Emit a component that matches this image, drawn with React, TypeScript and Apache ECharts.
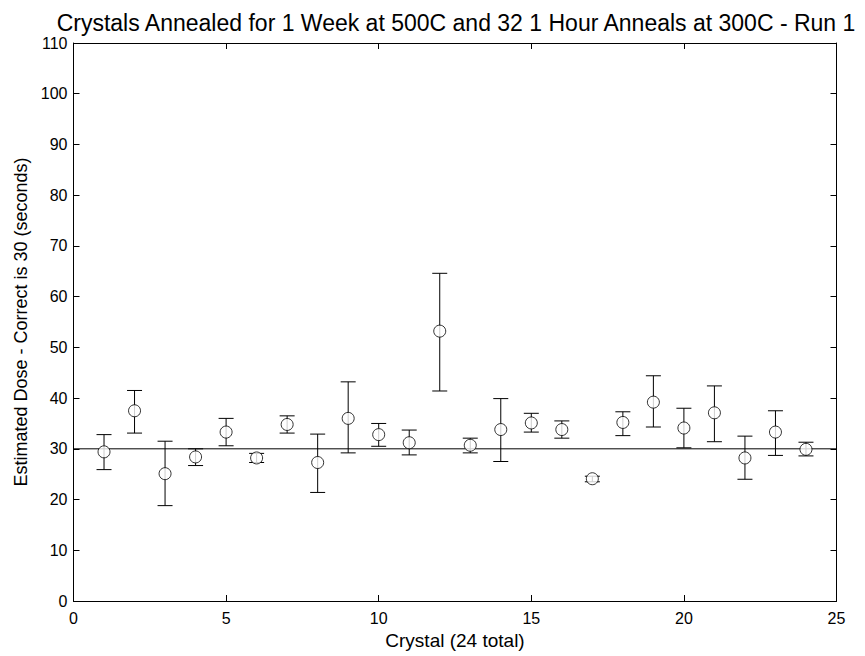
import React, { useEffect, useRef } from "react";
import * as echarts from "echarts";

const crystals = [1, 2, 3, 4, 5, 6, 7, 8, 9, 10, 11, 12, 13, 14, 15, 16, 17, 18, 19, 20, 21, 22, 23, 24];
const doseMean = [29.4, 37.5, 25.1, 28.4, 33.3, 28.2, 34.8, 27.3, 36.0, 32.8, 31.2, 53.2, 30.7, 33.8, 35.1, 33.8, 24.1, 35.2, 39.2, 34.1, 37.1, 28.2, 33.3, 29.9];
const doseUpper = [32.8, 41.5, 31.5, 30.0, 36.0, 29.1, 36.5, 32.9, 43.2, 35.0, 33.7, 64.6, 32.1, 39.9, 37.0, 35.5, 24.6, 37.3, 44.4, 38.0, 42.4, 32.5, 37.5, 31.3];
const doseLower = [25.9, 33.1, 18.8, 26.7, 30.6, 27.3, 33.1, 21.4, 29.2, 30.5, 28.8, 41.4, 29.2, 27.5, 33.3, 32.1, 23.5, 32.6, 34.3, 30.2, 31.4, 24.0, 28.7, 28.6];
const correctDose = 30;
const xTicks = [0, 5, 10, 15, 20, 25];
const yTicks = [0, 10, 20, 30, 40, 50, 60, 70, 80, 90, 100, 110];

const FONT = "Liberation Sans";

export default function App() {
  const ref = useRef<HTMLDivElement>(null);
  useEffect(() => {
    if (!ref.current) return;
    const chart = echarts.init(ref.current, null, { renderer: "svg" });
    const axisCommon = {
      axisLine: { show: true, onZero: false, lineStyle: { color: "#000", width: 1 } },
      axisTick: { show: true, inside: true, length: 6, lineStyle: { color: "#000", width: 1 } },
      splitLine: { show: false },
    };
    const errData = crystals.map((c, i) => [c, doseLower[i], doseUpper[i]]);
    chart.setOption({
      animation: false,
      backgroundColor: "#fff",
      title: {
        text: "Crystals Annealed for 1 Week at 500C and 32 1 Hour Anneals at 300C - Run 1",
        left: 451,
        textAlign: "center",
        top: 6,
        textStyle: { fontFamily: FONT, fontSize: 23, fontWeight: "normal", color: "#000" },
      },
      grid: { left: 73.5, right: 28.5, top: 43, bottom: 55, containLabel: false },
      xAxis: [
        {
          type: "value",
          min: xTicks[0],
          max: xTicks[xTicks.length - 1],
          interval: 5,
          position: "bottom",
          name: "Crystal (24 total)",
          nameLocation: "middle",
          nameGap: 28,
          nameTextStyle: { fontFamily: FONT, fontSize: 19, color: "#000" },
          axisLabel: { fontFamily: FONT, fontSize: 16, color: "#000", margin: 9 },
          ...axisCommon,
        },
        {
          type: "value",
          min: xTicks[0],
          max: xTicks[xTicks.length - 1],
          interval: 5,
          position: "top",
          axisLabel: { show: false },
          ...axisCommon,
        },
      ],
      yAxis: [
        {
          type: "value",
          min: yTicks[0],
          max: yTicks[yTicks.length - 1],
          interval: 10,
          position: "left",
          name: "Estimated Dose - Correct is 30 (seconds)",
          nameLocation: "middle",
          nameGap: 31,
          nameTextStyle: { fontFamily: FONT, fontSize: 18, color: "#000" },
          axisLabel: { fontFamily: FONT, fontSize: 16, color: "#000", margin: 6 },
          ...axisCommon,
        },
        {
          type: "value",
          min: yTicks[0],
          max: yTicks[yTicks.length - 1],
          interval: 10,
          position: "right",
          axisLabel: { show: false },
          ...axisCommon,
        },
      ],
      series: [
        {
          type: "line",
          data: [[xTicks[0], correctDose], [xTicks[xTicks.length - 1], correctDose]],
          symbol: "none",
          lineStyle: { color: "#000", width: 1 },
          silent: true,
          z: 1,
        },
        {
          type: "custom",
          data: errData,
          z: 2,
          renderItem: (params: any, api: any) => {
            const x = api.value(0);
            const lo = api.coord([x, api.value(1)]);
            const hi = api.coord([x, api.value(2)]);
            const half = 7.5;
            const style = { stroke: "#000", lineWidth: 1 };
            return {
              type: "group",
              children: [
                { type: "line", shape: { x1: lo[0], y1: lo[1], x2: hi[0], y2: hi[1] }, style },
                { type: "line", shape: { x1: lo[0] - half, y1: lo[1], x2: lo[0] + half, y2: lo[1] }, style },
                { type: "line", shape: { x1: hi[0] - half, y1: hi[1], x2: hi[0] + half, y2: hi[1] }, style },
              ],
            };
          },
        },
        {
          type: "scatter",
          data: crystals.map((c, i) => [c, doseMean[i]]),
          symbol: "circle",
          symbolSize: 12,
          itemStyle: { color: "#fff", borderColor: "#000", borderWidth: 1 },
          z: 3,
        },
      ],
    });
    return () => chart.dispose();
  }, []);
  return (
    <div
      ref={ref}
      style={{ position: "fixed", left: 0, top: 0, width: 865, height: 656 }}
    />
  );
}
